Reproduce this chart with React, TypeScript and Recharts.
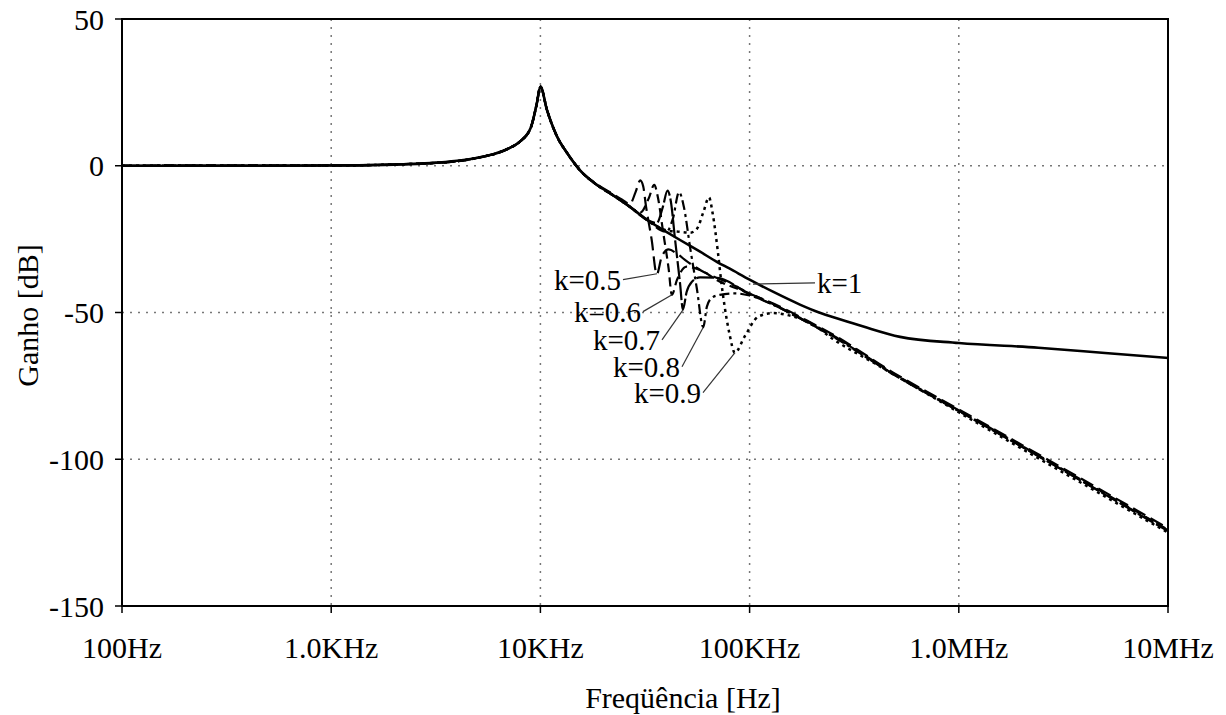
import React from "react";
import {
  LineChart,
  Line,
  XAxis,
  YAxis,
  CartesianGrid,
  ReferenceLine,
  ReferenceDot,
  ReferenceArea,
  Label,
} from "recharts";

// ---- axis ticks ----
const xTicks = [100, 1000, 10000, 100000, 1000000, 10000000];
const xTickLabels = ["100Hz", "1.0KHz", "10KHz", "100KHz", "1.0MHz", "10MHz"];
const yTicks = [-150, -100, -50, 0, 50];

// ---- k = 1 (solid) ----
const freqK10 = [100, 500, 1000, 2000, 3000, 4000, 5000, 6000, 7000, 8000, 9000, 9600, 10000, 10750, 12000, 13400, 15400, 18600, 22200, 26800, 32400, 40000, 46500, 58000, 70000, 80000, 100000, 130000, 174000, 215000, 270000, 350000, 524000, 1000000, 2400000, 5000000, 10000000];
const gainK10 = [0, 0, 0.1, 0.4, 0.9, 1.7, 2.7, 4, 5.8, 8.3, 13, 21, 27, 19, 10, 4.4, -1.4, -6.5, -10, -14, -18.5, -22.5, -25.3, -29.3, -32.8, -35, -38.8, -43, -47.3, -50, -52.3, -54.8, -58.3, -60.4, -62, -63.8, -65.5];

// ---- k = 0.5 ----
const freqK05 = [100, 1000, 3000, 5000, 7000, 8000, 9000, 9600, 10000, 10750, 12000, 13400, 15400, 18600, 22200, 24500, 26800, 28500, 30000, 31000, 32000, 34000, 36000, 38000, 41000, 45000, 50000, 58000, 80000, 100000, 140000, 174000, 250000, 500000, 1000000, 10000000];
const gainK05 = [0, 0.1, 0.9, 2.7, 5.8, 8.3, 13, 21, 27, 19, 10, 4.4, -1.4, -6.3, -9.6, -11.5, -13, -9, -5, -7, -14, -25, -37, -31, -28.5, -30, -32.5, -35.5, -40, -43.5, -48, -51.5, -57.5, -71, -83, -123.5];

// ---- k = 0.6 ----
const freqK06 = [100, 1000, 3000, 5000, 7000, 8000, 9000, 9600, 10000, 10750, 12000, 13400, 15400, 18600, 22200, 26800, 30000, 33000, 35000, 36500, 38500, 41000, 42500, 45000, 50000, 58000, 70000, 100000, 140000, 174000, 250000, 500000, 1000000, 10000000];
const gainK06 = [0, 0.1, 0.9, 2.7, 5.8, 8.3, 13, 21, 27, 19, 10, 4.4, -1.4, -6.5, -10, -14, -16, -11, -6.5, -11, -22, -35, -44, -38.8, -34.4, -35.5, -39, -43.5, -48.3, -51.8, -57.8, -71.3, -83.3, -124];

// ---- k = 0.7 ----
const freqK07 = [100, 1000, 3000, 5000, 7000, 8000, 9000, 9600, 10000, 10750, 12000, 13400, 15400, 18600, 22200, 26800, 32400, 36000, 38500, 40500, 42000, 44000, 46500, 48000, 50000, 53000, 58000, 70000, 100000, 140000, 174000, 250000, 500000, 1000000, 10000000];
const gainK07 = [0, 0.1, 0.9, 2.7, 5.8, 8.3, 13, 21, 27, 19, 10, 4.4, -1.4, -6.5, -10, -14, -18.5, -19.5, -14, -8.5, -12, -25, -40, -49, -43, -39.5, -38, -38.2, -43.8, -48.5, -52, -58, -71.5, -83.5, -124.5];

// ---- k = 0.8 ----
const freqK08 = [100, 1000, 3000, 5000, 7000, 8000, 9000, 9600, 10000, 10750, 12000, 13400, 15400, 18600, 22200, 26800, 32400, 40000, 43000, 46000, 48500, 52000, 56000, 60000, 62500, 66000, 72000, 85000, 100000, 140000, 174000, 250000, 500000, 1000000, 10000000];
const gainK08 = [0, 0.1, 0.9, 2.7, 5.8, 8.3, 13, 21, 27, 19, 10, 4.4, -1.4, -6.5, -10, -14, -18.5, -22.5, -18, -9, -14, -28, -42, -55, -48, -45, -44, -43.5, -44.2, -48.5, -52, -58.2, -71.6, -83.6, -124.2];

// ---- k = 0.9 ----
const freqK09 = [100, 1000, 3000, 5000, 7000, 8000, 9000, 9600, 10000, 10750, 12000, 13400, 15400, 18600, 22200, 26800, 32400, 40000, 46500, 52000, 56000, 60000, 64000, 66500, 70600, 73000, 76000, 80000, 85000, 95000, 110000, 130000, 150000, 200000, 250000, 400000, 1000000, 10000000];
const gainK09 = [0, 0.1, 0.9, 2.7, 5.8, 8.3, 13, 21, 27, 19, 10, 4.4, -1.4, -6.5, -10, -14, -18.5, -22, -22.5, -22.8, -21.5, -16, -10.8, -16, -29.6, -38.8, -48, -57, -63.7, -58, -51.4, -50.2, -50.8, -54, -59, -67.5, -84, -125];

// ---- annotations ----
const annTexts = ["k=0.5", "k=0.6", "k=0.7", "k=0.8", "k=0.9", "k=1"];
const annStartFreq = [24820, 30930, 38130, 47520, 59880, 205400];
const annStartGain = [-38.8, -49.7, -59.3, -68.5, -77.3, -39.9];
const annEndFreq = [36080, 42580, 48040, 59880, 85160, 103800];
const annEndGain = [-36.8, -43.95, -49.1, -55.2, -63.7, -40.3];

const toPoints = (fs: number[], gs: number[]) => fs.map((f, i) => ({ f, g: gs[i] }));

const series = [
  { name: "k=0.5", data: toPoints(freqK05, gainK05), dash: "14 6", w: 2.2 },
  { name: "k=0.6", data: toPoints(freqK06, gainK06), dash: "9 5", w: 2.2 },
  { name: "k=0.7", data: toPoints(freqK07, gainK07), dash: "18 3", w: 2.2 },
  { name: "k=0.8", data: toPoints(freqK08, gainK08), dash: "10 4 3 4", w: 2.2 },
  { name: "k=0.9", data: toPoints(freqK09, gainK09), dash: "3 4", w: 2.5 },
  { name: "k=1", data: toPoints(freqK10, gainK10), dash: undefined, w: 2.6 },
];

const FONT = '"Liberation Serif", "Times New Roman", serif';

export default function App() {
  return (
    <div style={{ position: "absolute", left: 0, top: 0, background: "#fff", fontFamily: FONT }}>
      <LineChart
        width={1226}
        height={715}
        margin={{ top: 19, right: 58, left: 62, bottom: 49 }}
      >
        <CartesianGrid
          stroke="#777"
          strokeDasharray="2 6"
          strokeWidth={1.5}
          horizontalValues={[-100, -50, 0]}
          verticalValues={[1000, 10000, 100000, 1000000]}
        />
        <XAxis
          dataKey="f"
          type="number"
          scale="log"
          domain={[100, 10000000]}
          ticks={xTicks}
          allowDataOverflow
          height={60}
          tickSize={7}
          tickMargin={24}
          tickFormatter={(v: number) => xTickLabels[xTicks.indexOf(v)] ?? ""}
          tick={{ fill: "#000", fontSize: 30, style: { fontFamily: FONT } }}
          axisLine={{ stroke: "#000", strokeWidth: 2 }}
          tickLine={{ stroke: "#000", strokeWidth: 1.5 }}
        >
          <Label
            content={(p: any) => {
              const vb = p.viewBox || {};
              return (
                <text
                  x={vb.x + vb.width / 2 + 38}
                  y={vb.y + 102}
                  textAnchor="middle"
                  fontSize={30}
                  style={{ fontFamily: FONT }}
                  fill="#000"
                >
                  Freqüência [Hz]
                </text>
              );
            }}
          />
        </XAxis>
        <YAxis
          type="number"
          domain={[-150, 50]}
          ticks={yTicks}
          allowDataOverflow
          width={60}
          tickSize={7}
          tickMargin={11}
          tick={{ fill: "#000", fontSize: 30, style: { fontFamily: FONT } }}
          axisLine={{ stroke: "#000", strokeWidth: 2 }}
          tickLine={{ stroke: "#000", strokeWidth: 1.5 }}
        >
          <Label
            content={(p: any) => {
              const vb = p.viewBox || {};
              const cx = vb.x - 35;
              const cy = vb.y + vb.height / 2 + 3;
              return (
                <text
                  x={cx}
                  y={cy}
                  transform={`rotate(-90 ${cx} ${cy})`}
                  textAnchor="middle"
                  dominantBaseline="central"
                  fontSize={30}
                  style={{ fontFamily: FONT }}
                  fill="#000"
                >
                  Ganho [dB]
                </text>
              );
            }}
          />
        </YAxis>
        <ReferenceArea
          x1={100}
          x2={10000000}
          y1={-150}
          y2={50}
          fill="none"
          stroke="#000"
          strokeWidth={2}
          ifOverflow="visible"
        />
        {series.map((s) => (
          <Line
            key={s.name}
            data={s.data}
            dataKey="g"
            type="monotone"
            stroke="#000"
            strokeWidth={s.w}
            strokeDasharray={s.dash}
            dot={false}
            activeDot={false}
            isAnimationActive={false}
          />
        ))}
        {annTexts.map((t, i) => (
          <ReferenceLine
            key={"l" + t}
            segment={[
              { x: annStartFreq[i], y: annStartGain[i] },
              { x: annEndFreq[i], y: annEndGain[i] },
            ]}
            stroke="#333"
            strokeWidth={1.2}
            ifOverflow="visible"
          />
        ))}
        {annTexts.map((t, i) => (
          <ReferenceDot
            key={"t" + t}
            x={annStartFreq[i]}
            y={annStartGain[i]}
            r={0}
            ifOverflow="visible"
            shape={(p: any) => (
              <text
                x={p.cx + (i === 5 ? 2 : -2)}
                y={p.cy}
                textAnchor={i === 5 ? "start" : "end"}
                dominantBaseline="central"
                fontSize={29}
                style={{ fontFamily: FONT }}
                fill="#000"
              >
                {t}
              </text>
            )}
          />
        ))}
      </LineChart>
    </div>
  );
}
